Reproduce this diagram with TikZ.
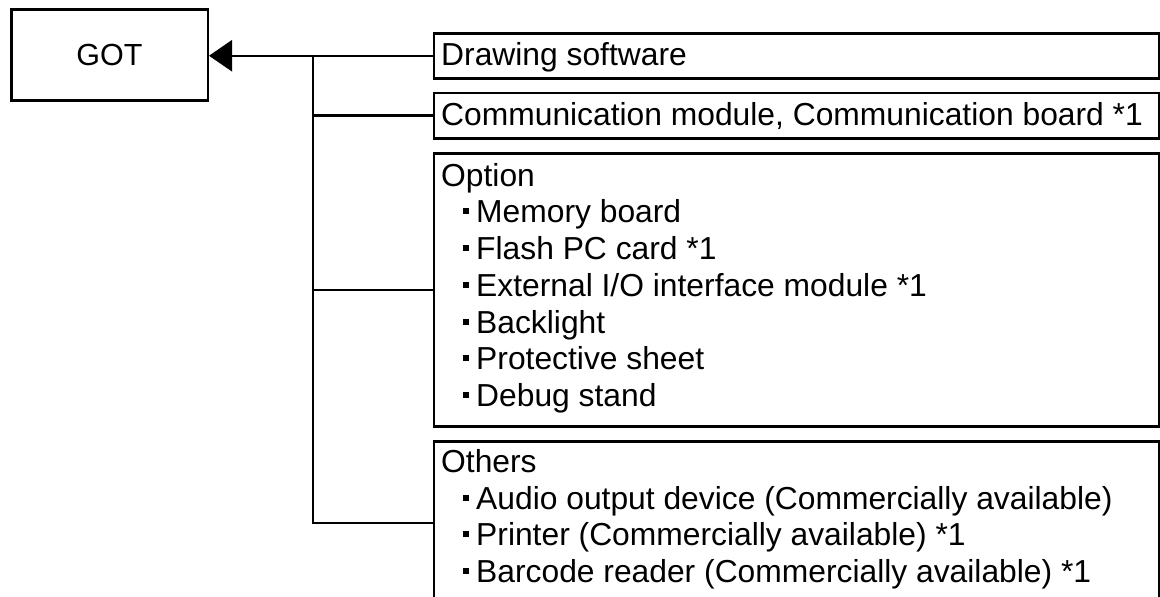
\documentclass[tikz,border=0pt]{standalone}
\usepackage{fontspec}
\setmainfont{Liberation Sans}
\usetikzlibrary{arrows.meta}
\newcommand\sqb{\makebox[35pt][l]{\hspace{22pt}\rule[8.3pt]{6pt}{6pt}}}
\tikzset{
  box/.style={draw=black, line width=2.5pt, inner sep=0pt, anchor=north west, minimum width=725.5pt},
  txt/.style={anchor=base west, inner sep=0pt, font=\fontsize{31.8}{36.75}\selectfont},
  wire/.style={draw=black, line width=2.5pt},
}
\begin{document}
\begin{tikzpicture}[x=1pt,y=-1pt]
\useasboundingbox (0,0) rectangle (1160,597);
\clip (0,0) rectangle (1160,597);
\fill[white] (0,0) rectangle (1160,597);
% GOT
\node[draw=black, line width=2.5pt, anchor=north west, minimum width=196.5pt, minimum height=91pt, inner sep=0pt,
      font=\fontsize{30.5}{36}\selectfont] (got) at (10,8) {GOT};
% boxes
\node[box, minimum height=45pt] (dsw) at (432.5,32) {};
\node[box, minimum height=45.5pt] (comm) at (432.5,91.5) {};
\node[box, minimum height=273pt] (opt) at (432.5,152) {};
\node[box, minimum height=168pt] (oth) at (432.5,440) {};
% texts
\node[txt] (t1) at (441,65) {Drawing software};
\node[txt] (t2) at (441,125) {Communication module, Communication board *1};
\node[txt] (o0) at (441,186) {Option};
\node[txt] (o1) at (441,222.7) {\sqb Memory board};
\node[txt] (o2) at (441,259.5) {\sqb Flash PC card *1};
\node[txt] (o3) at (441,296.2) {\sqb External I/O interface module *1};
\node[txt] (o4) at (441,333) {\sqb Backlight};
\node[txt] (o5) at (441,369.7) {\sqb Protective sheet};
\node[txt] (o6) at (441,406.5) {\sqb Debug stand};
\node[txt] (p0) at (441,472) {Others};
\node[txt] (p1) at (441,509) {\sqb Audio output device (Commercially available)};
\node[txt] (p2) at (441,545.5) {\sqb Printer (Commercially available) *1};
\node[txt] (p3) at (441,582) {\sqb Barcode reader (Commercially available) *1};
% connectors
\coordinate (bustop) at (313,54.5);
\coordinate (busbot) at (313,523);
\draw[wire, -{Triangle[length=23pt,width=31pt]}] (dsw.west) -- (got.east |- dsw.west);
\draw[wire] (bustop) -- (busbot) -- (busbot -| oth.west);
\draw[wire] (bustop |- comm.west) -- (comm.west);
\draw[wire] (bustop |- opt.west) -- (opt.west);
\end{tikzpicture}
\end{document}
